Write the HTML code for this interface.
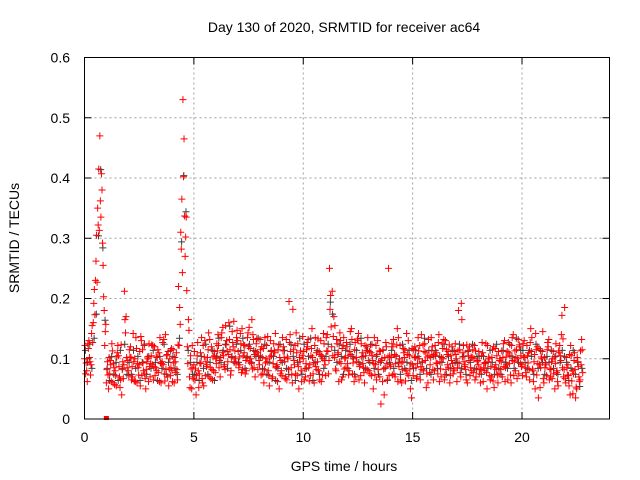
<!DOCTYPE html>
<html><head><meta charset="utf-8"><style>
html,body{margin:0;padding:0;background:#fff}
svg{display:block;font-family:"Liberation Sans",sans-serif}
</style></head><body>
<svg id="chart" width="640" height="480" viewBox="0 0 640 480">
<text x="344" y="32" text-anchor="middle" font-size="14" fill="#000">Day 130 of 2020, SRMTID for receiver ac64</text>
<text x="344" y="471" text-anchor="middle" font-size="14" fill="#000">GPS time / hours</text>
<text transform="translate(19,238) rotate(-90)" text-anchor="middle" font-size="14" fill="#000">SRMTID / TECUs</text>
<g id="grid"></g>
<g id="ticks"></g>
<g id="marks"></g>
<rect x="84.5" y="57.5" width="525" height="361.5" fill="none" stroke="#000" stroke-width="1"/>
</svg>
<script>
const xTicks=[0,5,10,15,20];
const yTicks=[0,0.1,0.2,0.3,0.4,0.5,0.6];
const yTickLabels=["0","0.1","0.2","0.3","0.4","0.5","0.6"];
const sampleStep=0.1;
const offsetR1=0, offsetR2=0.05, offsetR3=0.025, offsetR4=0.075, offsetG=0.04;
const seriesR1=[.10,.08,.13,.09,.16,.23,.35,.47,.38,.18,
.06,.05,.09,.06,.08,.11,.07,.04,.09,.17,
.08,.12,.07,.10,.06,.09,.13,.08,.05,.10,
.07,.09,.12,.08,.11,.06,.09,.14,.07,.10,
.08,.06,.11,.22,.31,.53,.27,.12,.07,.05,
.09,.04,.08,.11,.06,.13,.09,.07,.12,.08,
.10,.14,.07,.11,.09,.13,.16,.08,.12,.10,
.13,.09,.15,.11,.08,.12,.10,.14,.07,.11,
.09,.12,.06,.10,.08,.13,.07,.11,.09,.05,
.08,.12,.07,.10,.14,.06,.09,.11,.05,.08,
.10,.07,.12,.09,.15,.06,.11,.08,.13,.10,
.09,.14,.25,.12,.17,.08,.11,.13,.07,.10,
.12,.08,.15,.10,.07,.13,.09,.11,.06,.12,
.08,.11,.05,.09,.13,.07,.10,.04,.12,.25,
.09,.12,.07,.15,.10,.06,.11,.08,.13,.05,
.09,.12,.07,.10,.14,.08,.11,.06,.09,.12,
.08,.11,.14,.07,.10,.13,.09,.06,.12,.08,
.10,.18,.07,.11,.09,.06,.12,.08,.10,.07,
.09,.06,.11,.08,.05,.10,.07,.12,.09,.06,
.10,.07,.13,.09,.11,.06,.14,.08,.10,.12,
.09,.13,.07,.11,.15,.08,.05,.12,.09,.10,
.06,.09,.12,.07,.10,.05,.08,.11,.14,.07,
.06,.09,.04,.08,.11,.05,.07,.09];
const seriesR2=[.075,.125,.095,.155,.215,.305,.415,.335,.255,.145,
.095,.075,.125,.085,.055,.105,.065,.095,.165,.085,
.115,.065,.095,.135,.085,.055,.115,.075,.095,.125,
.105,.065,.085,.115,.135,.095,.075,.105,.055,.085,
.115,.095,.065,.185,.365,.465,.335,.165,.105,.085,
.065,.105,.075,.135,.055,.095,.115,.085,.065,.105,
.125,.085,.135,.105,.155,.095,.115,.145,.095,.135,
.085,.125,.105,.075,.135,.095,.165,.085,.125,.105,
.115,.075,.135,.095,.055,.105,.125,.085,.115,.075,
.135,.095,.065,.195,.085,.115,.075,.125,.095,.105,
.065,.115,.085,.105,.075,.135,.095,.065,.105,.125,
.135,.075,.205,.105,.155,.125,.095,.065,.135,.085,
.105,.145,.075,.115,.095,.065,.125,.085,.105,.135,
.075,.105,.135,.065,.095,.025,.115,.085,.065,.105,
.125,.075,.105,.135,.065,.095,.115,.075,.105,.035,
.115,.085,.135,.065,.095,.125,.075,.105,.135,.065,
.105,.075,.095,.125,.065,.115,.085,.105,.075,.125,
.085,.115,.165,.095,.065,.105,.085,.115,.065,.095,
.075,.105,.085,.125,.095,.065,.115,.085,.105,.075,
.095,.125,.085,.065,.105,.135,.095,.115,.075,.105,
.125,.085,.105,.065,.135,.095,.115,.035,.085,.145,
.085,.115,.065,.095,.075,.125,.055,.105,.085,.185,
.085,.055,.105,.075,.035,.095,.065,.115];
const seriesR3=[.122,.062,.102,.142,.192,.262,.322,.362,.292,.122,
.082,.102,.062,.092,.072,.122,.052,.082,.212,.102,
.072,.102,.142,.062,.092,.112,.072,.122,.082,.062,
.092,.122,.072,.102,.062,.092,.132,.082,.112,.072,
.062,.102,.082,.122,.282,.402,.302,.092,.052,.122,
.112,.072,.052,.092,.122,.072,.102,.132,.082,.112,
.092,.122,.102,.152,.082,.112,.132,.102,.162,.092,
.112,.142,.082,.122,.102,.152,.092,.132,.112,.082,
.132,.102,.082,.122,.072,.112,.092,.142,.062,.102,
.072,.102,.132,.082,.112,.182,.122,.072,.102,.062,
.112,.092,.132,.072,.102,.122,.082,.112,.062,.142,
.072,.112,.182,.212,.102,.132,.062,.092,.122,.102,
.092,.112,.132,.062,.102,.142,.072,.092,.122,.082,
.112,.072,.092,.122,.082,.112,.062,.102,.092,.072,
.102,.132,.092,.062,.122,.082,.102,.142,.072,.092,
.072,.102,.092,.122,.082,.112,.052,.132,.102,.082,
.122,.092,.062,.102,.132,.082,.112,.072,.092,.112,
.062,.092,.192,.122,.082,.112,.072,.102,.122,.082,
.112,.082,.062,.092,.122,.072,.102,.052,.082,.112,
.082,.102,.062,.112,.092,.122,.072,.102,.132,.092,
.072,.102,.122,.082,.112,.062,.142,.092,.052,.112,
.102,.072,.132,.082,.112,.092,.062,.122,.172,.082,
.102,.072,.122,.042,.082,.102,.062,.132];
const seriesR4=[.093,.117,.073,.127,.173,.227,.313,.407,.203,.157,
.073,.097,.113,.057,.103,.087,.123,.067,.143,.097,
.103,.087,.063,.117,.073,.137,.093,.067,.103,.087,
.123,.087,.103,.077,.093,.127,.063,.107,.083,.117,
.093,.077,.123,.157,.243,.337,.213,.147,.083,.067,
.083,.127,.093,.067,.103,.087,.143,.067,.103,.077,
.113,.097,.143,.087,.123,.107,.073,.127,.113,.147,
.103,.077,.123,.097,.143,.117,.083,.107,.133,.097,
.073,.117,.093,.137,.103,.067,.113,.087,.123,.097,
.113,.067,.103,.127,.073,.097,.143,.087,.113,.137,
.083,.127,.063,.117,.093,.087,.133,.107,.073,.097,
.113,.097,.153,.137,.083,.107,.143,.117,.083,.127,
.073,.107,.093,.127,.133,.087,.103,.077,.113,.097,
.123,.097,.073,.107,.113,.097,.083,.127,.103,.087,
.073,.107,.123,.087,.093,.117,.063,.107,.083,.117,
.103,.067,.113,.087,.123,.097,.103,.077,.113,.107,
.093,.127,.083,.117,.073,.107,.123,.097,.083,.107,
.113,.077,.103,.087,.123,.097,.103,.077,.113,.097,
.083,.127,.093,.077,.103,.087,.063,.117,.073,.097,
.113,.087,.103,.127,.073,.097,.113,.067,.123,.087,
.103,.077,.093,.127,.083,.107,.073,.117,.103,.067,
.093,.127,.083,.067,.103,.077,.113,.097,.133,.067,
.073,.107,.063,.097,.053,.087,.113,.077];
const seriesG=[.114,.094,.124,.084,.134,.174,.304,.414,.284,.164,
.084,.064,.104,.074,.094,.064,.114,.084,.124,.074,
.094,.074,.114,.084,.104,.064,.094,.124,.074,.104,
.084,.114,.094,.064,.104,.084,.124,.074,.094,.114,
.104,.084,.074,.134,.294,.404,.344,.114,.094,.074,
.074,.094,.064,.104,.084,.124,.074,.094,.114,.064,
.104,.134,.094,.114,.124,.084,.154,.104,.094,.124,
.094,.114,.134,.084,.104,.124,.094,.114,.104,.134,
.104,.084,.124,.074,.094,.114,.104,.064,.084,.124,
.094,.114,.084,.074,.124,.104,.064,.094,.134,.074,
.124,.084,.104,.134,.064,.094,.114,.074,.104,.084,
.104,.124,.194,.174,.114,.094,.124,.104,.074,.114,
.084,.124,.104,.074,.114,.094,.134,.104,.084,.114,
.094,.124,.084,.104,.074,.094,.114,.084,.064,.094,
.114,.084,.104,.094,.074,.124,.084,.094,.114,.064,
.084,.114,.104,.074,.094,.134,.084,.114,.074,.104,
.114,.084,.104,.094,.124,.074,.104,.084,.114,.094,
.094,.124,.084,.104,.074,.114,.094,.124,.084,.104,
.104,.074,.104,.094,.084,.114,.094,.074,.124,.084,
.074,.114,.094,.084,.124,.104,.084,.134,.094,.114,
.114,.094,.084,.114,.104,.074,.124,.084,.114,.094,
.074,.104,.094,.114,.084,.104,.074,.094,.114,.104,
.094,.064,.084,.114,.074,.094,.054,.084];
const zeroTimes=[1.0];
const zeroValues=[0];

const NS="http://www.w3.org/2000/svg";
const L=84.5,R=609.5,T=57.5,B=419;
function xs(t){return L+t*(R-L)/24;}
function ys(v){return B-v*(B-T)/0.6;}
const grid=document.getElementById('grid');
const ticks=document.getElementById('ticks');
const marks=document.getElementById('marks');
function mk(tag,attrs,parent){const e=document.createElementNS(NS,tag);for(const k in attrs)e.setAttribute(k,attrs[k]);parent.appendChild(e);return e;}
xTicks.forEach(function(t){
  const x=xs(t);
  if(t>0){const g=mk('line',{x1:x,x2:x,y1:T,y2:B,stroke:'#a0a0a0','stroke-dasharray':'2,3','stroke-width':1},grid);
  
  }
  const a=mk('line',{x1:x,x2:x,y1:B,y2:B-7,stroke:'#000'},ticks);
  
  
  const b=mk('line',{x1:x,x2:x,y1:T,y2:T+7,stroke:'#000'},ticks);
  
  
  const tx=mk('text',{x:x,y:442,'text-anchor':'middle','font-size':14,fill:'#000'},ticks);
  tx.textContent=String(t);
  
  
});
yTicks.forEach(function(v,i){
  const y=ys(v);
  if(v>0&&v<0.6){const g=mk('line',{x1:L,x2:R,y1:y,y2:y,stroke:'#a0a0a0','stroke-dasharray':'2,3','stroke-width':1},grid);
  
  }
  const a=mk('line',{x1:L,x2:L+7,y1:y,y2:y,stroke:'#000'},ticks);
  
  
  const b=mk('line',{x1:R,x2:R-7,y1:y,y2:y,stroke:'#000'},ticks);
  
  
  const tx=mk('text',{x:70,y:y+5,'text-anchor':'end','font-size':14,fill:'#000'},ticks);
  tx.textContent=yTickLabels[i];
  
  
});
function drawSeries(vals,off,color,name){
  vals.forEach(function(v,i){
    const x=xs(off+i*sampleStep), y=ys(v);
    const p=mk('path',{d:'M'+(x-3.5)+' '+y+'h7M'+x+' '+(y-3.5)+'v7',stroke:color,'stroke-width':1,fill:'none'},marks);
    
    
  });
}
drawSeries(seriesG,offsetG,'#404040','point-gray');
drawSeries(seriesR1,offsetR1,'#ff0000','point-red');
drawSeries(seriesR2,offsetR2,'#ff0000','point-red');
drawSeries(seriesR3,offsetR3,'#ff0000','point-red');
drawSeries(seriesR4,offsetR4,'#ff0000','point-red');
zeroTimes.forEach(function(t,i){
  const r=mk('rect',{x:xs(t)-2.5,y:ys(zeroValues[i])-3,width:5,height:4,fill:'#ff0000'},marks);
  
  
});
</script>
</body></html>
